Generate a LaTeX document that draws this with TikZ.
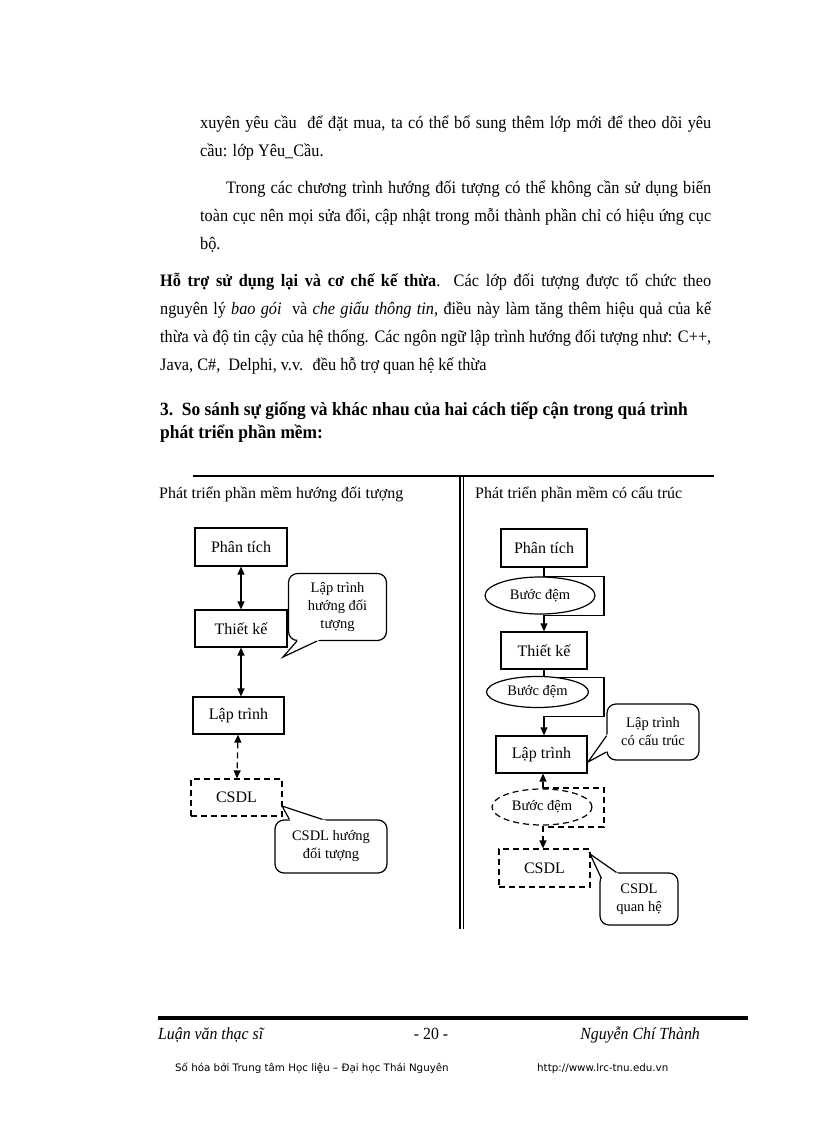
\documentclass[tikz,border=0pt]{standalone}
\usepackage{fontspec}
\setmainfont{Liberation Serif}
\newfontfamily\pagefont{Liberation Serif}[FakeStretch=0.93]
\newfontfamily\footsans{DejaVu Sans}
\usetikzlibrary{arrows.meta,positioning,shapes.geometric,calc}
\tikzset{
  txt/.style={anchor=base west,inner sep=0pt,font=\pagefont\fontsize{17.5}{21}\selectfont},
  head/.style={anchor=base west,inner sep=0pt,font=\fontsize{16}{19}\selectfont},
  stage/.style={draw,line width=1.2pt,minimum width=91pt,minimum height=37pt,
    inner sep=2pt,font=\fontsize{16}{19}\selectfont},
  dstage/.style={stage,dash pattern=on 6pt off 4pt},
  buffer/.style={ellipse,draw,fill=white,line width=1.2pt,minimum width=108pt,
    minimum height=36pt,inner sep=0pt,font=\fontsize{14.5}{17}\selectfont},
  dbuffer/.style={buffer,dash pattern=on 6pt off 4pt},
  note/.style={draw,fill=white,rounded corners=9pt,line width=1.2pt,align=center,
    inner sep=3pt,font=\fontsize{14.5}{18}\selectfont},
  arr/.style={-{Triangle[length=8pt,width=7pt]},line width=1.2pt},
  biarr/.style={{Triangle[length=8pt,width=7pt]}-{Triangle[length=8pt,width=7pt]},line width=1.2pt},
  dashline/.style={dash pattern=on 6pt off 4pt}
}
% pointer of a speech bubble: tip, two points on the border
\newcommand{\bubbletail}[3]{%
  \fill[white] (#1) -- ($(#1)!1.3!(#2)$) -- ($(#1)!1.3!(#3)$) -- cycle;
  \draw[line width=1.2pt] (#2) -- (#1) -- (#3);}

\begin{document}
\begin{tikzpicture}[x=1pt,y=-1pt]
\useasboundingbox[fill=white] (0,0) rectangle (816,1123);

% text of the page
\node[txt] (l1) at (200,129) {\makebox[511pt][s]{xuyên yêu cầu \ để đặt mua, ta có thể bổ sung thêm lớp mới để theo dõi yêu}};
\node[txt] (l2) at (200,157) {cầu: lớp Yêu\_Cầu.};
\node[txt] (l3) at (226,194) {\makebox[485pt][s]{Trong các chương trình hướng đối tượng có thể không cần sử dụng biến}};
\node[txt] (l4) at (200,222) {\makebox[511pt][s]{toàn cục nên mọi sửa đổi, cập nhật trong mỗi thành phần chỉ có hiệu ứng cục}};
\node[txt] (l5) at (200,250) {bộ.};
\node[txt] (l6) at (160,286) {\makebox[551pt][s]{\textbf{Hỗ trợ sử dụng lại và cơ chế kế thừa}. Các lớp đối tượng được tổ chức theo}};
\node[txt] (l7) at (160,314) {\makebox[551pt][s]{nguyên lý \textit{bao gói} \ và \textit{che giấu thông tin}, điều này làm tăng thêm hiệu quả của kế}};
\node[txt] (l8) at (160,342) {\makebox[551pt][s]{thừa và độ tin cậy của hệ thống. Các ngôn ngữ lập trình hướng đối tượng như: C++,}};
\node[txt] (l9) at (160,370) {Java, C\#, \ Delphi, v.v. \ đều hỗ trợ quan hệ kế thừa};
\node[txt,font=\pagefont\fontsize{18.7}{22}\selectfont\bfseries] (h1) at (160,415) {3.\ \ So sánh sự giống và khác nhau của hai cách tiếp cận trong quá trình};
\node[txt,font=\pagefont\fontsize{18.7}{22}\selectfont\bfseries] (h2) at (160,438) {phát triển phần mềm:};

% frame of the table
\draw[line width=2.5pt] (193,476) -- (714,476);
\draw[line width=1.1pt] (460,476) -- (460,929);
\draw[line width=1.1pt] (463.5,476) -- (463.5,929);
\node[head] (hl) at (159,498) {Phát triển phần mềm hướng đối tượng};
\node[head] (hr) at (475,498) {Phát triển phần mềm có cấu trúc};

% left column
\node[stage,minimum width=92pt,minimum height=38pt] (pt1) at (241,547) {Phân tích};
\node[stage,minimum width=92pt] (tk1) at (241,628.5) {Thiết kế};
\node[stage] (lt1) at (238.5,715.5) {Lập trình};
\node[dstage] (db1) at (236.5,797.5) {CSDL};
\draw[biarr] (pt1) -- (tk1);
\draw[biarr] (tk1.south) -- (tk1.south |- lt1.north);
\draw[biarr,dashline] (lt1) -- (db1);
\node[note,minimum width=98pt,minimum height=67pt] (n1) at (337.5,607) {Lập trình\\hướng đối\\tượng};
\coordinate (t1) at (283,657);
\bubbletail{t1}{$(n1.south west)+(9,0)$}{$(n1.south west)+(29,0)$}
\node[note,minimum width=112pt,minimum height=53pt] (n2) at (331,846.5) {CSDL hướng\\đối tượng};
\coordinate (t2) at (282,806);
\bubbletail{t2}{$(n2.north west)+(15,0)$}{$(n2.north west)+(48,0)$}

% right column
\node[stage,minimum width=86pt,minimum height=38pt] (pt2) at (544,548) {Phân tích};
\node[stage,minimum width=86pt] (tk2) at (544,650.5) {Thiết kế};
\node[stage] (lt2) at (541.5,754.5) {Lập trình};
\node[dstage,minimum height=38pt] (db2) at (544.5,868) {CSDL};
\draw[arr] (pt2.south) -- ++(0,9) -- ++(60,0) -- ++(0,39) -- ++(-60,0) -- (tk2.north);
\draw[arr] (tk2.south) -- ++(0,8) -- ++(60,0) -- ++(0,39) -- ++(-60,0) -- (tk2.south |- lt2.north);
\coordinate (c3) at (543,788);
\draw[arr,dashline] (c3) -- (c3 |- lt2.south);
\draw[arr,dashline] (c3) -- ++(61,0) -- ++(0,39) -- ++(-61,0) -- (c3 |- db2.north);
\node[buffer,minimum width=110pt,minimum height=37pt] (bd1) at (540,595.5) {Bước đệm};
\node[buffer,minimum width=102pt,minimum height=31pt] (bd2) at (537.5,692) {Bước đệm};
\node[dbuffer,minimum width=100pt,minimum height=36pt] (bd3) at (542,807) {Bước đệm};
\node[note,minimum width=92pt,minimum height=56pt] (n3) at (653,732) {Lập trình\\có cấu trúc};
\coordinate (t3) at (588,762);
\bubbletail{t3}{$(n3.west)+(0,4)$}{$(n3.west)+(0,20)$}
\node[note,minimum width=78pt,minimum height=52pt] (n4) at (639,899) {CSDL\\quan hệ};
\coordinate (t4) at (590,854);
\bubbletail{t4}{$(n4.north west)+(2,6)$}{$(n4.north west)+(17,0)$}

% footer
\draw[line width=4pt] (158,1018) -- (748,1018);
\node[txt,font=\pagefont\fontsize{17}{20}\selectfont\itshape] (f1) at (158,1039) {Luận văn thạc sĩ};
\node[txt,anchor=base,font=\pagefont\fontsize{17}{20}\selectfont] (f2) at (431,1039) {- 20 -};
\node[txt,anchor=base east,font=\pagefont\fontsize{17}{20}\selectfont\itshape] (f3) at (700,1039) {Nguyễn Chí Thành};
\node[txt,font=\fontsize{10.3}{12}\selectfont\footsans] (f4) at (175,1071) {Số hóa bởi Trung tâm Học liệu – Đại học Thái Nguyên};
\node[txt,font=\fontsize{10.3}{12}\selectfont\footsans] (f5) at (537,1071) {http://www.lrc-tnu.edu.vn};
\end{tikzpicture}
\end{document}
